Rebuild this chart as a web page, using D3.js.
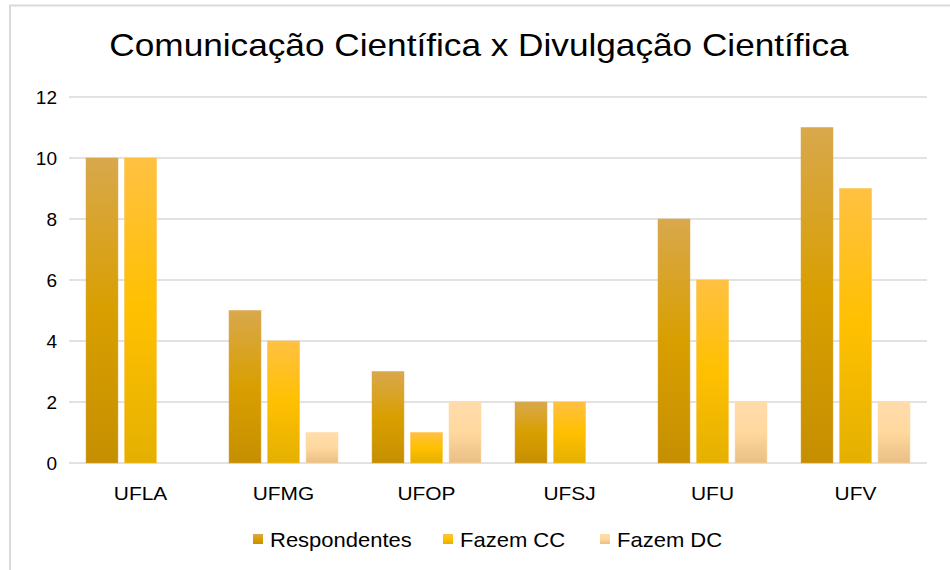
<!DOCTYPE html>
<html>
<head>
<meta charset="utf-8">
<script src="https://cdn.jsdelivr.net/npm/d3@7"></script>
<style>
  body { margin: 0; background: #fff; }
  text { font-family: "Liberation Sans", Arial, sans-serif; fill: #000; }
</style>
</head>
<body>
<div id="chart"></div>
<script>
// data
var universidades = ["UFLA", "UFMG", "UFOP", "UFSJ", "UFU", "UFV"];
var respondentes = [10, 5, 3, 2, 8, 11];
var fazemCC = [10, 4, 1, 2, 6, 9];
var fazemDC = [0, 1, 2, 0, 2, 2];
var seriesNames = ["Respondentes", "Fazem CC", "Fazem DC"];
var yTicks = [0, 2, 4, 6, 8, 10, 12];

var svgWidth = 950, svgHeight = 570;
// text in the reference is stretched a bit horizontally
var sx = 1.1;

var svg = d3.select("#chart").append("svg")
    .attr("width", svgWidth)
    .attr("height", svgHeight);

// gradients for each series (top light, middle base, bottom dark)
var grads = [
    ["#d8a84c", "#d99f00", "#c68f00"],
    ["#ffc142", "#ffc000", "#e4b000"],
    ["#ffdcaa", "#ffd89e", "#e8bf84"]
];
var defs = svg.append("defs");
grads.forEach(function(g, i) {
    var lg = defs.append("linearGradient")
        .attr("id", "grad" + i)
        .attr("x1", 0).attr("y1", 0).attr("x2", 0).attr("y2", 1);
    lg.append("stop").attr("offset", "0%").attr("stop-color", g[0]);
    lg.append("stop").attr("offset", "50%").attr("stop-color", g[1]);
    lg.append("stop").attr("offset", "100%").attr("stop-color", g[2]);
});

// outer frame (only top and left edges are visible)
svg.append("rect")
    .attr("x", 10).attr("y", 5.5)
    .attr("width", 1000).attr("height", 700)
    .attr("fill", "none")
    .attr("stroke", "#d9d9d9")
    .attr("stroke-width", 2);

function addText(parent, x, y, str, size, anchor, k) {
    return parent.append("text")
        .attr("transform", `translate(${x},${y}) scale(${k || sx},1)`)
        .attr("text-anchor", anchor)
        .attr("font-size", size + "px")
        .text(str);
}

// title
addText(svg, 479, 56, "Comunicação Científica x Divulgação Científica", 32, "middle");

var xScale = d3.scaleBand()
    .domain(universidades)
    .range([69, 927]);

var xInner = d3.scaleBand()
    .domain(seriesNames)
    .range([17, xScale.bandwidth() - 17])
    .paddingInner(0.17);

var yScale = d3.scaleLinear()
    .domain([0, 12])
    .range([463, 97]);

// gridlines
svg.append("g").selectAll("line")
    .data(yTicks)
    .enter()
    .append("line")
    .attr("x1", 69).attr("x2", 927)
    .attr("y1", d => yScale(d)).attr("y2", d => yScale(d))
    .attr("stroke", "#d9d9d9")
    .attr("stroke-width", 1.5);

// y labels
var yAxis = svg.append("g");
yTicks.forEach(function(t) {
    addText(yAxis, 57, yScale(t) + 7, t, 19, "end", 1.0);
});

// x labels
var xAxis = svg.append("g");
universidades.forEach(function(u) {
    addText(xAxis, xScale(u) + xScale.bandwidth() / 2, 500, u, 19, "middle");
});

// bars
var allSeries = [respondentes, fazemCC, fazemDC];
var rows = [];
allSeries.forEach(function(vals, si) {
    vals.forEach(function(v, ci) {
        rows.push({ serie: seriesNames[si], si: si, cat: universidades[ci], value: v });
    });
});

svg.append("g").selectAll("rect")
    .data(rows.filter(d => d.value > 0))
    .enter()
    .append("rect")
    .attr("x", d => xScale(d.cat) + xInner(d.serie))
    .attr("y", d => yScale(d.value))
    .attr("width", xInner.bandwidth())
    .attr("height", d => yScale(0) - yScale(d.value))
    .attr("fill", d => "url(#grad" + d.si + ")")
    .attr("stroke", d => grads[d.si][0])
    .attr("stroke-opacity", 0.5)
    .attr("stroke-width", 1);

// legend
var legendX = [253, 443, 600];
var legend = svg.append("g");
seriesNames.forEach(function(name, i) {
    legend.append("rect")
        .attr("x", legendX[i]).attr("y", 534)
        .attr("width", 10).attr("height", 10)
        .attr("fill", "url(#grad" + i + ")");
    addText(legend, legendX[i] + 17, 547, name, 20, "start");
});
</script>
</body>
</html>
